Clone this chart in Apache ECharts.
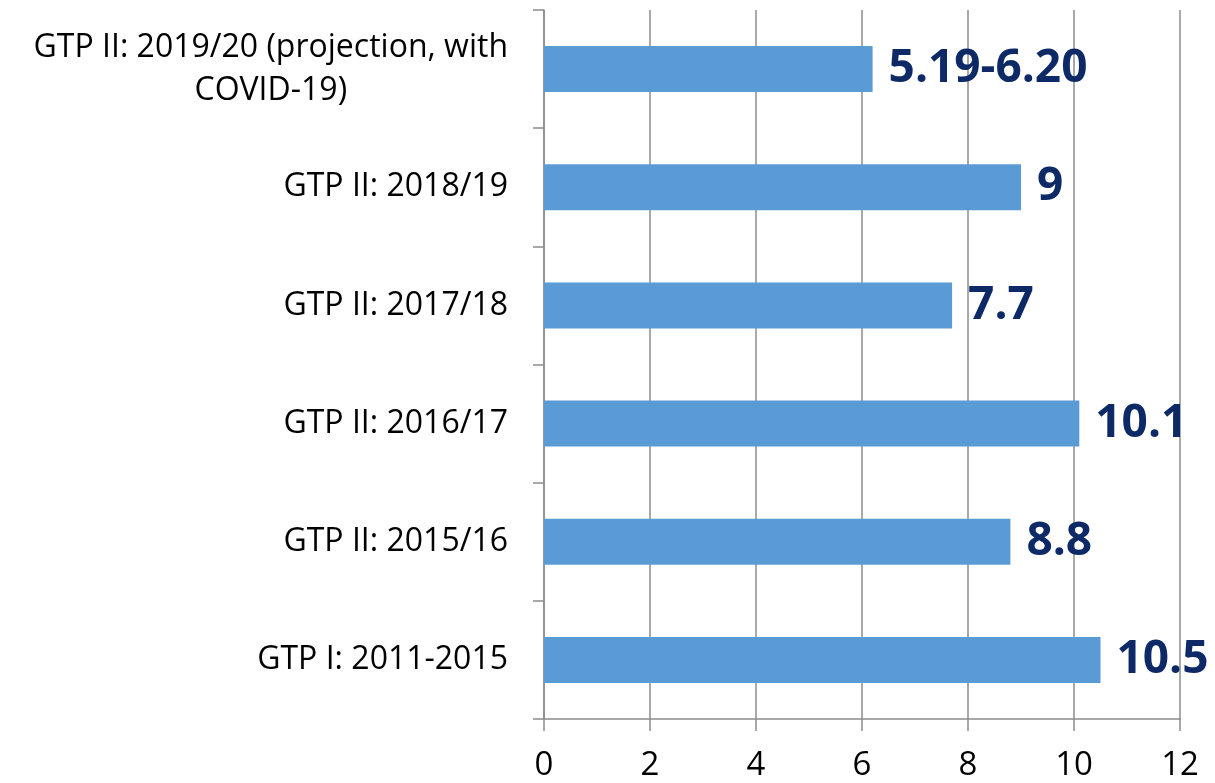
<!DOCTYPE html>
<html>
<head>
<meta charset="utf-8">
<script src="https://cdn.jsdelivr.net/npm/echarts@6/dist/echarts.min.js"></script>
<style>
  html, body { margin: 0; padding: 0; background: #fff; }
  #main { width: 1215px; height: 783px; }
</style>
</head>
<body>
<div id="main"></div>
<script>
// categories, bottom to top
var categories = ['GTP I: 2011-2015', 'GTP II: 2015/16', 'GTP II: 2016/17', 'GTP II: 2017/18', 'GTP II: 2018/19', 'GTP II: 2019/20 (projection, with\nCOVID-19)'];
var growth = [10.5, 8.8, 10.1, 7.7, 9, 6.2];
var valueLabels = ['10.5', '8.8', '10.1', '7.7', '9', '5.19-6.20'];
var xTicks = [0, 2, 4, 6, 8, 10, 12];

var myChart = echarts.init(document.getElementById('main'));
var option = {
  animation: false,
  grid: {
    left: 544,
    right: 35,
    top: 10,
    bottom: 64
  },
  xAxis: {
    type: 'value',
    min: xTicks[0],
    max: xTicks[xTicks.length - 1],
    interval: 2,
    axisLine: { show: true, lineStyle: { color: '#8c8c8c', width: 1.5 } },
    axisTick: { show: true, length: 12, lineStyle: { color: '#8c8c8c', width: 1.5 } },
    splitLine: { show: true, lineStyle: { color: '#8c8c8c', width: 1.5 } },
    axisLabel: {
      margin: 30,
      color: '#000',
      fontSize: 33,
      fontFamily: 'Open Sans'
    }
  },
  yAxis: {
    type: 'category',
    data: categories,
    axisLine: { show: true, lineStyle: { color: '#8c8c8c', width: 1.5 } },
    axisTick: { show: true, length: 11, lineStyle: { color: '#8c8c8c', width: 1.5 } },
    axisLabel: {
      margin: 36,
      color: '#000',
      fontSize: 32,
      fontFamily: 'Open Sans',
      lineHeight: 43,
      formatter: function (v) {
        return v.split('\n').map(function (s) { return '{c|' + s + '}'; }).join('\n');
      },
      rich: {
        c: { align: 'center', fontSize: 32, fontFamily: 'Open Sans', color: '#000', lineHeight: 43 }
      }
    }
  },
  series: [{
    type: 'bar',
    data: growth,
    barWidth: 46,
    itemStyle: { color: '#5b9bd5' },
    label: {
      show: true,
      position: 'right',
      distance: 16,
      color: '#0d2a66',
      fontSize: 46,
      fontWeight: 'bold',
      fontFamily: 'Open Sans',
      formatter: function (p) { return valueLabels[p.dataIndex]; }
    }
  }]
};
myChart.setOption(option);
</script>
</body>
</html>
